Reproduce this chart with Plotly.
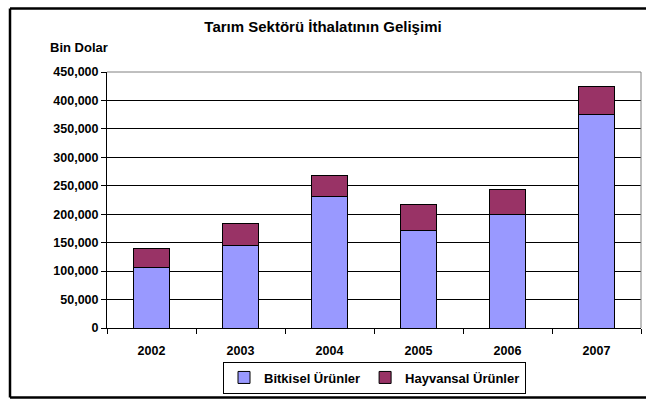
import plotly.graph_objects as go

years = ["2002", "2003", "2004", "2005", "2006", "2007"]
bitkisel = [106400, 145000, 231600, 170800, 200000, 375400]
hayvansal = [33400, 39200, 36800, 46200, 43300, 48600]
y_ticks = [0, 50000, 100000, 150000, 200000, 250000, 300000, 350000, 400000, 450000]

FONT = "Arial, Liberation Sans, sans-serif"

fig = go.Figure()
fig.add_trace(go.Bar(x=years, y=bitkisel, name="Bitkisel Ürünler",
                     marker=dict(color="#9999FF", line=dict(color="black", width=1)),
                     width=0.41))
fig.add_trace(go.Bar(x=years, y=hayvansal, name="Hayvansal Ürünler",
                     marker=dict(color="#993366", line=dict(color="black", width=1)),
                     width=0.41))

L, R, T, B = 107, 5, 72, 75
W, H = 646, 403
pw = W - L - R
ph = H - T - B

def px(x):
    return (x - L) / pw

def py(y):
    return (H - B - y) / ph

fig.update_layout(
    width=W, height=H,
    barmode="stack",
    margin=dict(l=L, r=R, t=T, b=B),
    paper_bgcolor="white", plot_bgcolor="white",
    font=dict(family=FONT, size=12, color="black"),
    title=dict(text="Tarım Sektörü İthalatının Gelişimi", x=0.5, xanchor="center",
               y=1 - 27 / H, yanchor="middle",
               font=dict(family=FONT, size=15, color="black", weight="bold")),
    showlegend=True,
    legend=dict(orientation="h", x=px(374.5), xanchor="center", y=py(377.5), yanchor="middle",
                bordercolor="black", borderwidth=1, bgcolor="white",
                font=dict(family=FONT, size=13, color="black", weight="bold"),
                traceorder="normal"),
    xaxis=dict(type="category", showline=True, linecolor="black", linewidth=1,
               ticks="outside", tickson="boundaries", ticklen=5, tickcolor="black",
               ticklabelstandoff=11,
               tickfont=dict(family=FONT, size=12.5, color="black", weight="bold"),
               showgrid=False, fixedrange=True),
    yaxis=dict(range=[0, 450000], tickvals=y_ticks, tickformat=",",
               showline=True, linecolor="black", linewidth=1,
               ticks="outside", ticklen=5, tickcolor="black",
               showgrid=True, gridcolor="black", gridwidth=1,
               zeroline=False, fixedrange=True,
               tickfont=dict(family=FONT, size=12.5, color="black", weight="bold")),
    bargap=0.59,
)

# plot-area border (top and right, grey)
fig.add_shape(type="line", xref="paper", yref="paper", x0=0, x1=1, y0=1, y1=1,
              line=dict(color="#808080", width=1))
fig.add_shape(type="line", xref="paper", yref="paper", x0=1, x1=1, y0=0, y1=1,
              line=dict(color="#808080", width=1))
# outer chart frame (left, top, bottom; right edge lies outside the picture)
for (x0, y0, x1, y1) in [(10, 8.5, 10, 397.5), (10, 8.5, 700, 8.5), (10, 397.5, 700, 397.5)]:
    fig.add_shape(type="line", xref="paper", yref="paper",
                  x0=px(x0), x1=px(x1), y0=py(y0), y1=py(y1),
                  line=dict(color="black", width=2.5))

fig.add_annotation(text="Bin Dolar", xref="paper", yref="paper",
                   x=px(48), y=py(47), xanchor="left", yanchor="middle",
                   showarrow=False,
                   font=dict(family=FONT, size=13, color="black", weight="bold"))

fig.write_html("out.html", config={"displayModeBar": False},
               post_script="document.body.style.margin='0';document.body.style.overflow='hidden';")
